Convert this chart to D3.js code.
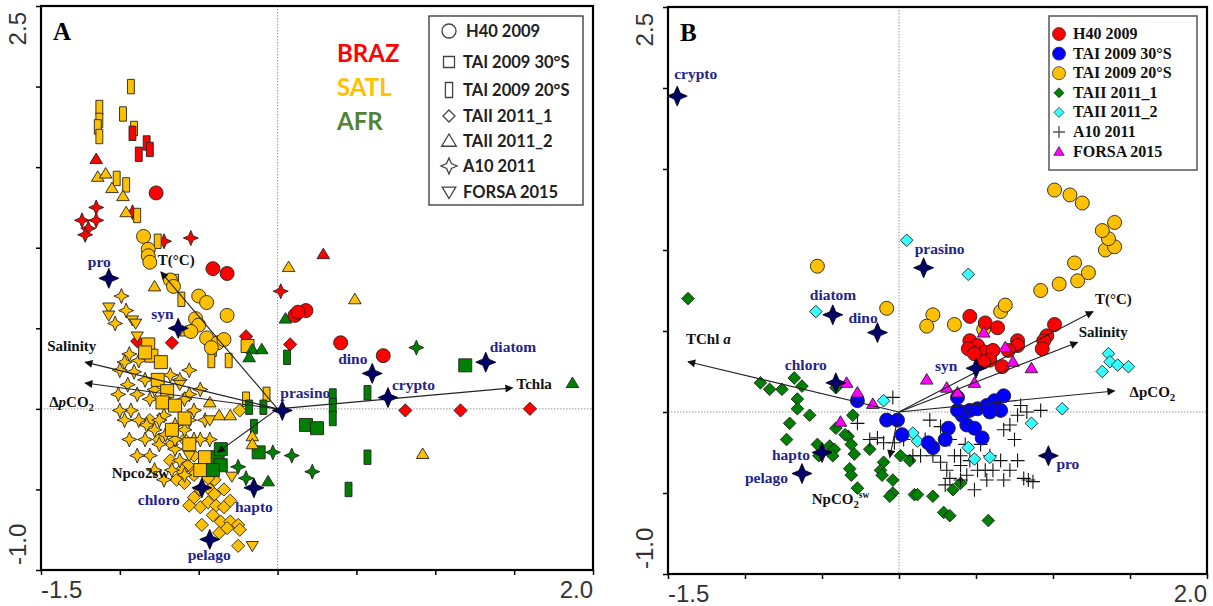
<!DOCTYPE html>
<html lang="en">
<head>
<meta charset="UTF-8">
<title>RDA biplots</title>
<script src="https://cdn.jsdelivr.net/npm/d3@7"></script>
<style>
  body { margin: 0; background: #fff; }
</style>
</head>
<body>
<script>
    // ---------- shared axes ----------
    const xDomain = [-1.5, 2.0]
    const yDomain = [-1.0, 2.5]
    const xTicks = [-1.5, -1, -0.5, 0, 0.5, 1, 1.5, 2]
    const yTicks = [-1, -0.5, 0, 0.5, 1, 1.5, 2, 2.5]
    const xTickLabels = ['-1.5', '2.0']
    const yTickLabels = ['-1.0', '2.5']

    // ---------- panel A : [axis1, axis2, region]  B = BRAZ, S = SATL, F = AFR ----------
    const regions = ['BRAZ', 'SATL', 'AFR']
    const aH40 = [
        [-0.77, 1.34, 'B'], [-0.41, 0.87, 'B'], [-0.32, 0.84, 'B'], [0.11, 0.58, 'B'], [0.18, 0.61, 'B'],
        [0.13, 0.60, 'B'], [0.40, 0.41, 'B'], [0.67, 0.33, 'B'],
        [-0.85, 1.07, 'S'], [-0.82, 0.99, 'S'], [-0.82, 0.95, 'S'], [-0.81, 0.91, 'S'], [-0.68, 0.80, 'S'],
        [-0.66, 0.76, 'S'], [-0.50, 0.70, 'S'], [-0.45, 0.66, 'S'], [-0.32, 0.58, 'S'], [-0.52, 0.56, 'S'],
        [-0.50, 0.52, 'S'], [-0.55, 0.48, 'S'], [-0.45, 0.44, 'S'], [-0.38, 0.41, 'S'], [-0.34, 0.43, 'S'],
        [-0.42, 0.38, 'S']
    ]
    const aTAI30 = [
        [-0.82, 0.40, 'S'], [-0.80, 0.33, 'S'], [-0.74, 0.29, 'S'], [-0.84, 0.35, 'S'], [-0.76, 0.18, 'S'],
        [-0.70, 0.11, 'S'], [-0.73, 0.04, 'S'], [-0.65, 0.02, 'S'], [-0.59, -0.06, 'S'], [-0.67, -0.13, 'S'],
        [-0.56, -0.22, 'S'], [-0.46, -0.30, 'S'], [-0.49, -0.38, 'S'], [-0.19, 0.39, 'S'],
        [-0.38, -0.30, 'F'], [-0.36, -0.35, 'F'], [-0.41, -0.38, 'F'], [-0.36, -0.25, 'F'], [-0.12, -0.27, 'F'],
        [0.18, -0.10, 'F'], [0.25, -0.12, 'F'], [1.19, 0.27, 'F']
    ]
    const aTAI20 = [
        [-0.93, 2.00, 'S'], [-1.13, 1.87, 'S'], [-1.13, 1.79, 'S'], [-1.14, 1.75, 'S'], [-1.13, 1.69, 'S'],
        [-0.98, 1.83, 'S'], [-0.91, 1.74, 'S'], [-1.02, 1.43, 'S'], [-0.96, 1.39, 'S'], [-0.89, 1.20, 'S'],
        [-0.76, 1.04, 'S'], [-0.65, 0.79, 'S'], [-0.61, 0.68, 'S'], [-0.41, 0.37, 'S'], [-0.31, 0.30, 'S'],
        [-0.42, 0.30, 'S'], [-0.07, 0.09, 'S'], [-0.20, 0.06, 'S'],
        [-0.92, 1.71, 'B'], [-0.83, 1.65, 'B'], [-0.81, 1.61, 'B'], [-0.88, 1.58, 'B'],
        [0.06, 0.32, 'F'], [0.35, 0.08, 'F'], [0.35, 0.02, 'F'], [0.35, -0.06, 'F'], [0.57, 0.10, 'F'],
        [0.57, -0.30, 'F'], [0.45, -0.50, 'F'], [-0.18, 0.01, 'F'], [-0.09, 0.01, 'F'], [-0.15, -0.11, 'F']
    ]
    const aTAII1 = [
        [-0.67, 0.41, 'B'], [-0.20, 0.45, 'B'], [0.08, 0.40, 'B'], [-0.89, 0.42, 'B'], [0.81, -0.01, 'B'],
        [1.16, -0.01, 'B'], [1.60, 0.00, 'B'],
        [-0.64, -0.44, 'S'], [-0.59, -0.46, 'S'], [-0.53, -0.55, 'S'], [-0.49, -0.61, 'S'], [-0.44, -0.58, 'S'],
        [-0.39, -0.60, 'S'], [-0.34, -0.61, 'S'], [-0.48, -0.72, 'S'], [-0.41, -0.66, 'S'], [-0.36, -0.70, 'S'],
        [-0.30, -0.70, 'S'], [-0.25, -0.72, 'S'], [-0.37, -0.77, 'S'], [-0.24, -0.75, 'S'], [-0.25, -0.85, 'S'],
        [-0.24, -0.01, 'S'], [-0.53, -0.38, 'S'], [-0.57, -0.35, 'S'], [-0.49, -0.50, 'S'], [-0.43, -0.50, 'S'],
        [-0.56, -0.60, 'S'], [-0.32, -0.74, 'S'], [-0.61, -0.38, 'S'], [-0.75, -0.19, 'S'], [-0.68, -0.32, 'S'],
        [-0.81, -0.07, 'S'], [-0.59, -0.19, 'S'], [-0.53, -0.29, 'S'], [-0.46, -0.35, 'S'], [-0.40, -0.44, 'S'],
        [-0.34, -0.50, 'S'], [-0.53, -0.41, 'S'], [-0.44, -0.43, 'S'], [-0.30, -0.57, 'S'], [-0.40, -0.53, 'S'],
        [-0.67, -0.22, 'S']
    ]
    const aTAII2 = [
        [-1.15, 1.55, 'B'], [0.29, 0.96, 'B'],
        [-1.14, 1.44, 'S'], [-1.09, 1.46, 'S'], [-1.05, 1.37, 'S'], [-0.98, 1.32, 'S'], [-0.96, 1.22, 'S'],
        [-0.78, 0.76, 'S'], [-0.58, 0.48, 'S'], [0.07, 0.88, 'S'], [0.49, 0.68, 'S'], [0.92, -0.28, 'S'],
        [-0.43, 0.04, 'S'], [-0.37, -0.04, 'S'], [-0.30, -0.04, 'S'], [-0.16, -0.17, 'S'], [-0.16, -0.22, 'S'],
        [-0.16, 0.37, 'F'], [-0.10, 0.37, 'F'], [-0.18, 0.32, 'F'], [0.05, 0.56, 'F'], [-0.06, -0.45, 'F'],
        [1.87, 0.16, 'F']
    ]
    const aA10 = [
        [-1.24, 1.17, 'B'], [-1.15, 1.25, 'B'], [-1.15, 1.17, 'B'], [-1.20, 1.12, 'B'], [-1.22, 1.08, 'B'],
        [-0.92, 1.22, 'B'], [-0.72, 1.04, 'B'], [-0.55, 1.06, 'B'], [0.02, 0.73, 'B'],
        [-0.99, 0.70, 'S'], [-0.96, 0.61, 'S'], [-1.03, 0.53, 'S'], [-0.94, 0.34, 'S'], [-0.97, 0.29, 'S'],
        [-1.00, 0.24, 'S'], [-0.91, 0.23, 'S'], [-0.95, 0.15, 'S'], [-1.01, 0.09, 'S'], [-0.89, 0.09, 'S'],
        [-0.93, -0.01, 'S'], [-0.88, -0.07, 'S'], [-0.97, -0.07, 'S'], [-0.83, -0.10, 'S'], [-0.78, -0.13, 'S'],
        [-0.84, -0.19, 'S'], [-0.75, -0.22, 'S'], [-0.81, -0.29, 'S'], [-0.71, -0.16, 'S'], [-0.65, -0.25, 'S'],
        [-0.62, -0.32, 'S'], [-0.67, -0.38, 'S'], [-0.59, -0.41, 'S'], [-0.72, -0.44, 'S'], [-0.88, 0.30, 'S'],
        [-0.84, 0.18, 'S'], [-0.81, 0.06, 'S'], [-0.72, -0.04, 'S'], [-0.65, -0.10, 'S'], [-0.59, -0.13, 'S'],
        [-0.56, 0.09, 'S'], [-0.49, 0.12, 'S'], [-0.53, -0.01, 'S'], [-0.46, -0.07, 'S'], [-0.62, 0.18, 'S'],
        [-0.56, 0.24, 'S'], [-0.68, 0.21, 'S'], [-0.53, -0.19, 'S'], [-0.43, -0.19, 'S'], [-0.78, -0.38, 'S'],
        [-0.78, 0.12, 'S'], [-0.72, 0.06, 'S'], [-0.75, -0.07, 'S'], [-0.65, -0.19, 'S'], [-0.56, -0.07, 'S'],
        [-0.49, -0.19, 'S'], [-0.59, 0.06, 'S'], [-0.94, -0.19, 'S'], [-0.89, -0.29, 'S'], [-1.00, -0.01, 'S'],
        [0.88, 0.38, 'F'], [0.22, -0.39, 'F'], [-0.25, -0.36, 'F'], [-0.20, -0.43, 'F'], [-0.03, -0.27, 'F'],
        [0.09, -0.29, 'F']
    ]
    const aFORSA = [
        [-1.07, 0.63, 'S'], [-1.07, 0.58, 'S'], [-0.92, 0.55, 'S'], [-0.90, 0.53, 'S'], [-0.89, 0.45, 'S'],
        [-0.16, -0.85, 'S'], [-0.29, -0.42, 'S'], [-0.62, 0.15, 'S'], [-0.43, -0.07, 'S'], [-0.56, -0.29, 'S']
    ]
    const speciesA = [
        ['pro', -1.07, 0.81], ['syn', -0.63, 0.50], ['prasino', 0.03, -0.01], ['dino', 0.60, 0.22],
        ['crypto', 0.70, 0.07], ['diatom', 1.32, 0.29], ['chloro', -0.48, -0.49], ['hapto', -0.15, -0.49],
        ['pelago', -0.43, -0.81]
    ]
    const envA = [
        ['Salinity', -1.22, 0.29], ['dpco2', -1.22, 0.16], ['T(°C)', -0.74, 0.85],
        ['Npco2sw', -0.38, -0.27], ['Tchla', 1.49, 0.13]
    ]
    const cruisesA = ['H40 2009', 'TAI 2009 30°S', 'TAI 2009 20°S', 'TAII 2011_1', 'TAII 2011_2', 'A10 2011', 'FORSA 2015']

    // ---------- panel B : [axis1, axis2] ----------
    const bH40 = [
        [0.46, 0.59], [0.56, 0.55], [0.64, 0.52], [0.46, 0.44], [0.51, 0.41], [0.45, 0.39], [0.56, 0.37],
        [0.61, 0.38], [0.59, 0.32], [0.55, 0.31], [0.67, 0.28], [0.77, 0.44], [0.77, 0.41], [0.96, 0.47],
        [0.94, 0.44], [0.93, 0.39], [1.01, 0.54], [0.49, 0.36], [0.71, 0.38]
    ]
    const bTAI30 = [
        [-0.27, 0.07], [-0.08, -0.05], [-0.01, -0.05], [0.02, -0.14], [0.22, -0.22], [0.19, -0.19],
        [0.38, 0.09], [0.46, 0.01], [0.41, -0.02], [0.51, 0.02], [0.57, 0.04], [0.62, 0.07], [0.68, 0.10],
        [0.66, 0.01], [0.44, -0.08], [0.49, -0.10], [0.32, -0.10], [0.54, -0.16], [0.38, 0.01], [0.59, 0.00],
        [0.30, -0.17]
    ]
    const bTAI20 = [
        [-0.53, 0.90], [-0.08, 0.64], [0.22, 0.60], [0.18, 0.53], [0.36, 0.54], [0.66, 0.62], [0.69, 0.66],
        [0.55, 0.51], [0.92, 0.75], [1.04, 0.79], [1.16, 0.81], [1.23, 0.86], [1.14, 0.92], [1.34, 1.00],
        [1.40, 1.02], [1.36, 1.07], [1.32, 1.12], [1.40, 1.17], [1.19, 1.29], [1.11, 1.34], [1.01, 1.37]
    ]
    const bTAII1 = [
        [-1.37, 0.70], [-0.90, 0.18], [-0.84, 0.14], [-0.76, 0.14], [-0.68, 0.21], [-0.63, 0.16], [-0.66, 0.08],
        [-0.66, 0.02], [-0.58, -0.02], [-0.71, -0.07], [-0.73, -0.17], [-0.53, -0.20], [-0.45, -0.21],
        [-0.52, -0.27], [-0.42, -0.23], [-0.33, -0.15], [-0.30, -0.02], [-0.19, -0.23], [-0.10, -0.31],
        [-0.31, -0.20], [-0.29, -0.26], [-0.27, -0.47], [-0.32, -0.35], [-0.31, -0.39], [-0.12, -0.36],
        [-0.11, -0.39], [-0.04, -0.42], [-0.04, -0.50], [-0.06, -0.52], [0.01, -0.27], [0.07, -0.30],
        [-0.41, -0.10], [-0.35, -0.14], [-0.43, -0.27], [0.10, -0.51], [0.12, -0.51], [0.22, -0.52],
        [0.35, -0.48], [0.40, -0.44], [0.29, -0.62], [0.33, -0.64], [0.58, -0.67], [-0.41, 0.15]
    ]
    const bTAII2 = [
        [0.05, 1.06], [0.45, 0.85], [-0.54, 0.62], [-0.10, 0.07], [0.09, -0.13], [0.12, -0.18], [0.45, -0.22],
        [0.49, -0.29], [0.59, -0.28], [0.86, -0.07], [1.06, 0.02], [1.36, 0.36], [1.37, 0.31], [1.42, 0.29],
        [1.32, 0.25], [1.49, 0.28]
    ]
    const bA10 = [
        [-0.04, 0.09], [-0.27, -0.07], [-0.19, -0.17], [-0.14, -0.16], [-0.10, -0.19], [-0.03, -0.19],
        [0.03, -0.17], [0.27, -0.09], [0.33, -0.17], [0.27, -0.31], [0.31, -0.36], [0.40, -0.33], [0.44, -0.39],
        [0.51, -0.36], [0.57, -0.42], [0.66, -0.30], [0.68, -0.42], [0.72, -0.36], [0.75, -0.17], [0.77, -0.30],
        [0.81, -0.41], [0.84, -0.42], [0.87, -0.43], [0.77, -0.02], [0.83, 0.00], [0.92, 0.01], [0.72, -0.08],
        [0.68, -0.11], [0.53, -0.20], [0.59, -0.27], [0.40, -0.42], [0.33, -0.41], [0.22, -0.27], [0.14, -0.27],
        [0.09, -0.27], [0.36, -0.27], [0.46, -0.30], [0.30, -0.45], [0.49, -0.48], [0.61, -0.36], [0.79, 0.04],
        [0.20, -0.05], [0.43, -0.20], [0.56, -0.36], [0.40, -0.27], [0.17, -0.17]
    ]
    const bFORSA = [
        [0.18, 0.20], [0.31, 0.15], [0.38, 0.12], [0.49, 0.18], [0.55, 0.49], [0.69, 0.40], [0.74, 0.31],
        [0.86, 0.27], [-0.34, 0.18], [-0.27, 0.12], [-0.17, 0.05], [-0.38, -0.06]
    ]
    const speciesB = [
        ['crypto', -1.44, 1.95], ['prasino', 0.16, 0.89], ['diatom', -0.43, 0.60], ['dino', -0.14, 0.49],
        ['chloro', -0.41, 0.18], ['syn', 0.50, 0.27], ['hapto', -0.50, -0.25], ['pelago', -0.63, -0.38],
        ['pro', 0.97, -0.27]
    ]
    const envB = [
        ['T(°C)', 1.26, 0.62], ['Salinity', 1.16, 0.43], ['dpco2', 1.40, 0.13],
        ['TChl a', -1.37, 0.31], ['NpCO2sw', -0.06, -0.28]
    ]
    const cruisesB = ['H40 2009', 'TAI 2009 30°S', 'TAI 2009 20°S', 'TAII 2011_1', 'TAII 2011_2', 'A10 2011', 'FORSA 2015']

    // ---------- styles ----------
    const regionColor = {B: '#ff0000', S: '#ffc000', F: '#008000'}
    const regionText = ['#ff0000', '#ffc000', '#548235']
    const cruiseColorB = ['#ff0000', '#0000ff', '#ffc000', '#008000', '#33ffff', '#000', '#ff00ff']
    const navy = '#000066'
    const labelBlue = '#24248c'
    const serif = '"Liberation Serif", "Times New Roman", serif'
    const sans = '"Liberation Sans", Arial, sans-serif'

    const [width, height] = [1213, 606]
    const svg = d3.select('body').append('svg').attr('width', width).attr('height', height)

    const defs = svg.append('defs')
    defs.append('marker').attr('id', 'arrow')
        .attr('viewBox', '0 0 10 10').attr('refX', 9).attr('refY', 5)
        .attr('markerWidth', 10).attr('markerHeight', 8)
        .attr('markerUnits', 'userSpaceOnUse').attr('orient', 'auto')
        .append('path').attr('d', 'M0,0L10,5L0,10Z').attr('fill', '#111')

    // symbol path, s = half size in px
    const shapePath = (type, s) => {
        switch (type) {
            case 'circle': return `M${s},0A${s},${s} 0 1,1 ${-s},0A${s},${s} 0 1,1 ${s},0Z`
            case 'square': return `M${-s},${-s}H${s}V${s}H${-s}Z`
            case 'rect': return `M${-s * 0.48},${-s}H${s * 0.48}V${s}H${-s * 0.48}Z`
            case 'diamond': return `M0,${-s}L${s},0L0,${s}L${-s},0Z`
            case 'tri': return `M0,${-s}L${s * 1.05},${s * 0.75}L${-s * 1.05},${s * 0.75}Z`
            case 'down': return `M0,${s}L${s * 1.05},${-s * 0.75}L${-s * 1.05},${-s * 0.75}Z`
            case 'star': {
                const r = s * 0.3
                return `M0,${-s}L${r},${-r}L${s},0L${r},${r}L0,${s}L${-r},${r}L${-s},0L${-r},${-r}Z`
            }
            case 'plus': return `M${-s},0H${s}M0,${-s}V${s}`
        }
    }

    // rich labels (subscripts, italics)
    const richParts = {
        dpco2A: [{t: 'Δ'}, {t: 'p', i: true}, {t: 'CO'}, {t: '2', sub: true}],
        dpco2B: [{t: 'ΔpCO'}, {t: '2', sub: true}],
        'TChl a': [{t: 'TChl '}, {t: 'a', i: true}],
        NpCO2sw: [{t: 'NpCO'}, {t: '2', sub: true}, {t: 'sw', sup: true}]
    }
    const writeRich = (text, parts) => {
        let shift = 0
        parts.forEach(p => {
            const ts = text.append('tspan').text(p.t)
            let target = 0
            if (p.i) ts.attr('font-style', 'italic')
            if (p.sub) { ts.attr('font-size', '0.72em'); target = 4 }
            if (p.sup) { ts.attr('font-size', '0.62em'); target = -6 }
            if (target !== shift) ts.attr('dy', target - shift)
            shift = target
        })
    }

    const drawFrame = (g, x, y, letter) => {
        // zero lines
        g.append('line').attr('x1', x(0)).attr('x2', x(0)).attr('y1', y(2.5)).attr('y2', y(-1))
            .attr('stroke', '#999').attr('stroke-width', 1).attr('stroke-dasharray', '1.5,1.5')
        g.append('line').attr('x1', x(-1.5)).attr('x2', x(2)).attr('y1', y(0)).attr('y2', y(0))
            .attr('stroke', '#999').attr('stroke-width', 1).attr('stroke-dasharray', '1.5,1.5')

        const gx = g.append('g').attr('transform', `translate(0,${y(-1)})`)
            .call(d3.axisBottom(x).tickValues(xTicks).tickSize(5).tickFormat(''))
        const gy = g.append('g').attr('transform', `translate(${x(-1.5)},0)`)
            .call(d3.axisLeft(y).tickValues(yTicks).tickSize(5).tickFormat(''))
        ;[gx, gy].forEach(a => {
            a.select('.domain').remove()
            a.selectAll('line').attr('stroke', '#000').attr('stroke-width', 1.5)
        })
        g.append('rect').attr('x', x(-1.5)).attr('y', y(2.5))
            .attr('width', x(2) - x(-1.5)).attr('height', y(-1) - y(2.5))
            .attr('fill', 'none').attr('stroke', '#000').attr('stroke-width', 2.2)

        g.append('text').attr('x', x(-1.5)).attr('y', y(-1) + 28).attr('text-anchor', 'start')
            .attr('font-family', sans).attr('font-size', 24).attr('fill', '#333').text(xTickLabels[0])
        g.append('text').attr('x', x(2)).attr('y', y(-1) + 28).attr('text-anchor', 'end')
            .attr('font-family', sans).attr('font-size', 24).attr('fill', '#333').text(xTickLabels[1])
        g.append('text').attr('transform', `translate(${x(-1.5) - 15},${y(-1) - 5}) rotate(-90)`)
            .attr('text-anchor', 'start')
            .attr('font-family', sans).attr('font-size', 24).attr('fill', '#333').text(yTickLabels[0])
        g.append('text').attr('transform', `translate(${x(-1.5) - 15},${y(2.5) + 6}) rotate(-90)`)
            .attr('text-anchor', 'end')
            .attr('font-family', sans).attr('font-size', 24).attr('fill', '#333').text(yTickLabels[1])

        g.append('text').attr('x', x(-1.5) + 12).attr('y', y(2.5) + 34)
            .attr('font-family', serif).attr('font-weight', 'bold').attr('font-size', 25).text(letter)
    }

    const drawArrows = (g, x, y, env, offsets, richKey) => {
        env.forEach((d, i) => {
            g.append('line').attr('x1', x(0)).attr('y1', y(0)).attr('x2', x(d[1])).attr('y2', y(d[2]))
                .attr('stroke', '#222').attr('stroke-width', 1.1).attr('marker-end', 'url(#arrow)')
            const t = g.append('text').attr('x', x(d[1]) + offsets[i][0]).attr('y', y(d[2]) + offsets[i][1])
                .attr('font-family', serif).attr('font-weight', 'bold').attr('font-size', 15).attr('fill', '#111')
            const key = d[0] === 'dpco2' ? richKey : d[0]
            if (richParts[key]) writeRich(t, richParts[key])
            else t.text(d[0])
        })
    }

    const drawSpecies = (g, x, y, species, offsets) => {
        species.forEach((d, i) => {
            g.append('path').attr('d', shapePath('star', 10))
                .attr('transform', `translate(${x(d[1])},${y(d[2])})`)
                .attr('fill', navy).attr('stroke', '#000').attr('stroke-width', 0.8)
            g.append('text').attr('x', x(d[1]) + offsets[i][0]).attr('y', y(d[2]) + offsets[i][1])
                .attr('font-family', serif).attr('font-weight', 'bold').attr('font-size', 15.5)
                .attr('fill', labelBlue).text(d[0])
        })
    }

    // ================= PANEL A =================
    const xA = d3.scaleLinear().domain(xDomain).range([41, 593])
    const yA = d3.scaleLinear().domain(yDomain).range([570, 6])
    const gA = svg.append('g')
    drawFrame(gA, xA, yA, 'A')

    const layersA = [
        [aTAII1, 'diamond', 6.6], [aA10, 'star', 7.5], [aTAI30, 'square', 6.5], [aFORSA, 'down', 5.8],
        [aTAI20, 'rect', 7.2], [aTAII2, 'tri', 6], [aH40, 'circle', 7]
    ]
    layersA.forEach(([data, shape, size]) => {
        gA.append('g').selectAll('path').data(data).enter().append('path')
            .attr('d', shapePath(shape, size))
            .attr('transform', d => `translate(${xA(d[0])},${yA(d[1])})`)
            .attr('fill', d => regionColor[d[2]])
            .attr('stroke', '#222').attr('stroke-width', 0.9)
    })

    drawArrows(gA, xA, yA, envA, [[-38, -11], [-36, 24], [-3, -7], [-106, 26], [4, 1]], 'dpco2A')
    drawSpecies(gA, xA, yA, speciesA,
        [[-21, -11], [-27, -9], [-2, -12], [-34, -9], [4, -8], [4, -10], [-64, 17], [-19, 24], [-22, 21]])

    // region names
    regions.forEach((r, i) => {
        gA.append('text').attr('x', 337).attr('y', 62 + i * 34)
            .attr('font-family', 'Lato, "Open Sans", sans-serif').attr('font-weight', 'bold')
            .attr('font-size', 24).attr('fill', regionText[i]).text(r)
    })

    // legend A (hollow symbols)
    const legA = gA.append('g')
    legA.append('rect').attr('x', 429).attr('y', 16).attr('width', 154).attr('height', 189)
        .attr('fill', '#fff').attr('stroke', '#333').attr('stroke-width', 1.3)
    const legAShapes = [['circle', 7], ['square', 5.5], ['rect', 7.5], ['diamond', 6], ['tri', 7], ['star', 8], ['down', 6.5]]
    const legARows = [31, 62, 90, 116, 141, 166, 192]
    cruisesA.forEach((c, i) => {
        legA.append('path').attr('d', shapePath(legAShapes[i][0], legAShapes[i][1]))
            .attr('transform', `translate(449,${legARows[i]})`)
            .attr('fill', '#fff').attr('stroke', '#444').attr('stroke-width', 1.3)
        legA.append('text').attr('x', i === 0 ? 466 : 463).attr('y', legARows[i] + 6)
            .attr('font-family', 'Lato, "Open Sans", sans-serif').attr('font-weight', 'bold')
            .attr('font-size', 16.5).attr('fill', '#222').text(c)
    })

    // ================= PANEL B =================
    const xB = d3.scaleLinear().domain(xDomain).range([668, 1207])
    const yB = d3.scaleLinear().domain(yDomain).range([574, 7])
    const gB = svg.append('g')
    drawFrame(gB, xB, yB, 'B')

    const layersB = [
        [bTAII1, 'diamond', 6.3, 3], [bA10, 'plus', 7, 5], [bTAII2, 'diamond', 6.3, 4],
        [bTAI20, 'circle', 7, 2], [bH40, 'circle', 7, 0], [bTAI30, 'circle', 7, 1], [bFORSA, 'tri', 6, 6]
    ]
    layersB.forEach(([data, shape, size, ci]) => {
        gB.append('g').selectAll('path').data(data).enter().append('path')
            .attr('d', shapePath(shape, size))
            .attr('transform', d => `translate(${xB(d[0])},${yB(d[1])})`)
            .attr('fill', shape === 'plus' ? 'none' : cruiseColorB[ci])
            .attr('stroke', shape === 'plus' ? '#111' : '#222')
            .attr('stroke-width', shape === 'plus' ? 1.1 : 0.9)
    })

    drawArrows(gB, xB, yB, envB, [[2, -8], [1, -5], [15, 6], [-2, -18], [-78, 47]], 'dpco2B')
    drawSpecies(gB, xB, yB, speciesB,
        [[-3, -17], [-9, -14], [-23, -15], [-29, -10], [-51, -13], [-41, 3], [-50, 7], [-57, 9], [8, 13]])

    // legend B (filled symbols)
    const legB = gB.append('g')
    legB.append('rect').attr('x', 1049).attr('y', 16).attr('width', 148).attr('height', 154)
        .attr('fill', '#fff').attr('stroke', '#555').attr('stroke-width', 1.5)
    const legBShapes = [['circle', 6.5], ['circle', 6.5], ['circle', 6.5], ['diamond', 5], ['diamond', 5], ['plus', 6], ['tri', 5]]
    cruisesB.forEach((c, i) => {
        const yy = 34 + i * 19.6
        const sh = legBShapes[i][0]
        legB.append('path').attr('d', shapePath(sh, legBShapes[i][1]))
            .attr('transform', `translate(1059,${yy})`)
            .attr('fill', sh === 'plus' ? 'none' : cruiseColorB[i])
            .attr('stroke', sh === 'plus' ? '#555' : '#333').attr('stroke-width', sh === 'plus' ? 1.4 : 0.8)
        legB.append('text').attr('x', 1073).attr('y', yy + 5)
            .attr('font-family', serif).attr('font-weight', 'bold')
            .attr('font-size', 16).attr('fill', '#111').text(c)
    })
</script>
</body>
</html>
